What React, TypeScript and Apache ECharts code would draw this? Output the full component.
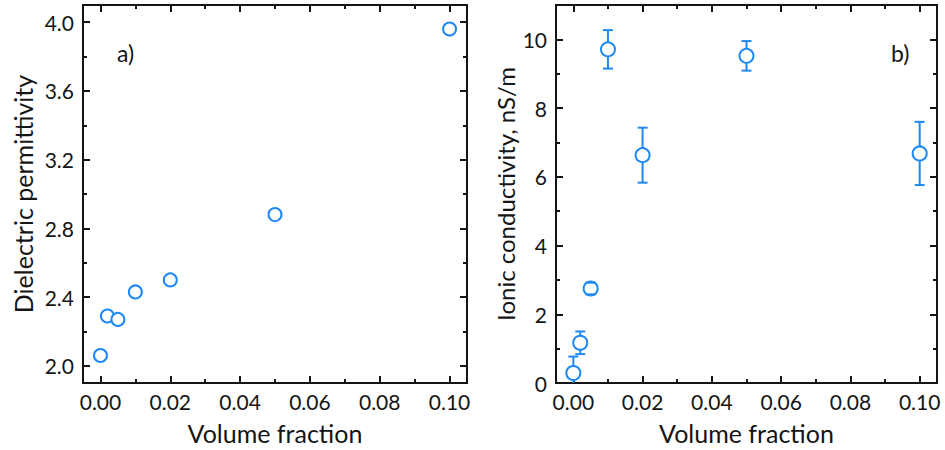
import React, { useEffect, useRef } from "react";
import * as echarts from "echarts";

const xValues = [0, 0.002, 0.005, 0.01, 0.02, 0.05, 0.1];
const permittivity = [2.06, 2.29, 2.27, 2.43, 2.5, 2.88, 3.96];
const conductivity = [0.29, 1.17, 2.75, 9.71, 6.63, 9.52, 6.68];
const conductivityErr = [0.48, 0.33, 0.17, 0.56, 0.8, 0.43, 0.92];

const xMajor = [0, 0.02, 0.04, 0.06, 0.08, 0.1];
const xMinor = [0.01, 0.03, 0.05, 0.07, 0.09];
const yMajorA = [2.0, 2.4, 2.8, 3.2, 3.6, 4.0];
const yMinorA = [2.2, 2.6, 3.0, 3.4, 3.8];
const yMajorB = [0, 2, 4, 6, 8, 10];
const yMinorB = [1, 3, 5, 7, 9];

const BLUE = "#1e88f5";
const INK = "#151515";
const FONT = "Lato";

export default function App() {
  const ref = useRef<HTMLDivElement>(null);
  useEffect(() => {
    if (!ref.current) return;
    const chart = echarts.init(ref.current, null, { renderer: "svg" });

    const axisLine = { show: true, onZero: false, lineStyle: { color: INK, width: 2 } };
    const mkX = (grid: number, pos: string, major: boolean, labels: boolean, name?: string) => ({
      type: "value",
      gridIndex: grid,
      position: pos,
      min: -0.005,
      max: 0.105,
      splitLine: { show: false },
      axisLine,
      axisTick: {
        show: true,
        inside: true,
        length: major ? 7 : 4,
        lineStyle: { color: INK, width: 2 },
        customValues: major ? xMajor : xMinor,
      },
      axisLabel: {
        show: labels,
        customValues: xMajor,
        formatter: (v: number) => v.toFixed(2),
        color: INK,
        fontFamily: FONT,
        fontSize: 21,
        margin: 8,
      },
      name: name,
      nameLocation: "middle",
      nameGap: 37,
      nameTextStyle: { color: INK, fontFamily: FONT, fontSize: 25 },
    });
    const mkY = (
      grid: number,
      pos: string,
      major: boolean,
      labels: boolean,
      min: number,
      max: number,
      majors: number[],
      minors: number[],
      digits: number,
      name?: string,
      gap?: number,
      nameSize?: number
    ) => ({
      type: "value",
      gridIndex: grid,
      position: pos,
      min,
      max,
      splitLine: { show: false },
      axisLine,
      axisTick: {
        show: true,
        inside: true,
        length: major ? 7 : 4,
        lineStyle: { color: INK, width: 2 },
        customValues: major ? majors : minors,
      },
      axisLabel: {
        show: labels,
        customValues: majors,
        formatter: (v: number) => v.toFixed(digits),
        color: INK,
        fontFamily: FONT,
        fontSize: 21,
        margin: 9,
      },
      name: name,
      nameLocation: "middle",
      nameRotate: 90,
      nameGap: gap,
      nameTextStyle: { color: INK, fontFamily: FONT, fontSize: nameSize || 25 },
    });

    const errData = xValues.map((x, i) => [x, conductivity[i], conductivityErr[i]]);
    const style = { stroke: BLUE, lineWidth: 2 };
    const hw = 5;

    chart.setOption({
      animation: false,
      backgroundColor: "#ffffff",
      grid: [
        { left: 83, top: 5, width: 384, height: 383 },
        { left: 556, top: 5, width: 381, height: 383 },
      ],
      xAxis: [
        mkX(0, "bottom", true, true, "Volume fraction"),
        mkX(0, "bottom", false, false),
        mkX(0, "top", true, false),
        mkX(0, "top", false, false),
        mkX(1, "bottom", true, true, "Volume fraction"),
        mkX(1, "bottom", false, false),
        mkX(1, "top", true, false),
        mkX(1, "top", false, false),
      ],
      yAxis: [
        mkY(0, "left", true, true, 1.9, 4.1, yMajorA, yMinorA, 1, "Dielectric permittivity", 48, 25),
        mkY(0, "left", false, false, 1.9, 4.1, yMajorA, yMinorA, 1),
        mkY(0, "right", true, false, 1.9, 4.1, yMajorA, yMinorA, 1),
        mkY(0, "right", false, false, 1.9, 4.1, yMajorA, yMinorA, 1),
        mkY(1, "left", true, true, 0, 11, yMajorB, yMinorB, 0, "Ionic conductivity, nS/m", 39, 24),
        mkY(1, "left", false, false, 0, 11, yMajorB, yMinorB, 0),
        mkY(1, "right", true, false, 0, 11, yMajorB, yMinorB, 0),
        mkY(1, "right", false, false, 0, 11, yMajorB, yMinorB, 0),
      ],
      series: [
        {
          type: "scatter",
          xAxisIndex: 0,
          yAxisIndex: 0,
          data: xValues.map((x, i) => [x, permittivity[i]]),
          symbol: "circle",
          symbolSize: 13,
          itemStyle: { color: "#ffffff", borderColor: BLUE, borderWidth: 2, opacity: 1 },
          z: 5,
        },
        {
          type: "custom",
          xAxisIndex: 4,
          yAxisIndex: 4,
          clip: true,
          data: errData,
          encode: { x: 0, y: 1 },
          renderItem: (params: any, api: any) => {
            const x = api.value(0);
            const y = api.value(1);
            const e = api.value(2);
            const top = api.coord([x, y + e]);
            const bot = api.coord([x, y - e]);
            return { type: "line", shape: { x1: top[0], y1: top[1], x2: bot[0], y2: bot[1] }, style };
          },
          z: 3,
        },
        {
          type: "scatter",
          xAxisIndex: 4,
          yAxisIndex: 4,
          data: xValues.map((x, i) => [x, conductivity[i]]),
          symbol: "circle",
          symbolSize: 14,
          itemStyle: { color: "#ffffff", borderColor: BLUE, borderWidth: 2, opacity: 1 },
          z: 5,
        },
        {
          type: "custom",
          xAxisIndex: 4,
          yAxisIndex: 4,
          clip: true,
          data: errData,
          encode: { x: 0, y: 1 },
          renderItem: (params: any, api: any) => {
            const x = api.value(0);
            const y = api.value(1);
            const e = api.value(2);
            const top = api.coord([x, y + e]);
            const bot = api.coord([x, y - e]);
            return {
              type: "group",
              children: [
                { type: "line", shape: { x1: top[0] - hw, y1: top[1], x2: top[0] + hw, y2: top[1] }, style },
                { type: "line", shape: { x1: bot[0] - hw, y1: bot[1], x2: bot[0] + hw, y2: bot[1] }, style },
              ],
            };
          },
          z: 6,
        },
      ],
      graphic: [
        {
          type: "text",
          left: 117,
          top: 41,
          style: { text: "a)", fill: INK, font: `23px ${FONT}` },
        },
        {
          type: "text",
          left: 891,
          top: 41,
          style: { text: "b)", fill: INK, font: `23px ${FONT}` },
        },
      ],
    });
    return () => chart.dispose();
  }, []);
  return (
    <div
      ref={ref}
      style={{ position: "fixed", left: 0, top: 0, width: 945, height: 450 }}
    />
  );
}
